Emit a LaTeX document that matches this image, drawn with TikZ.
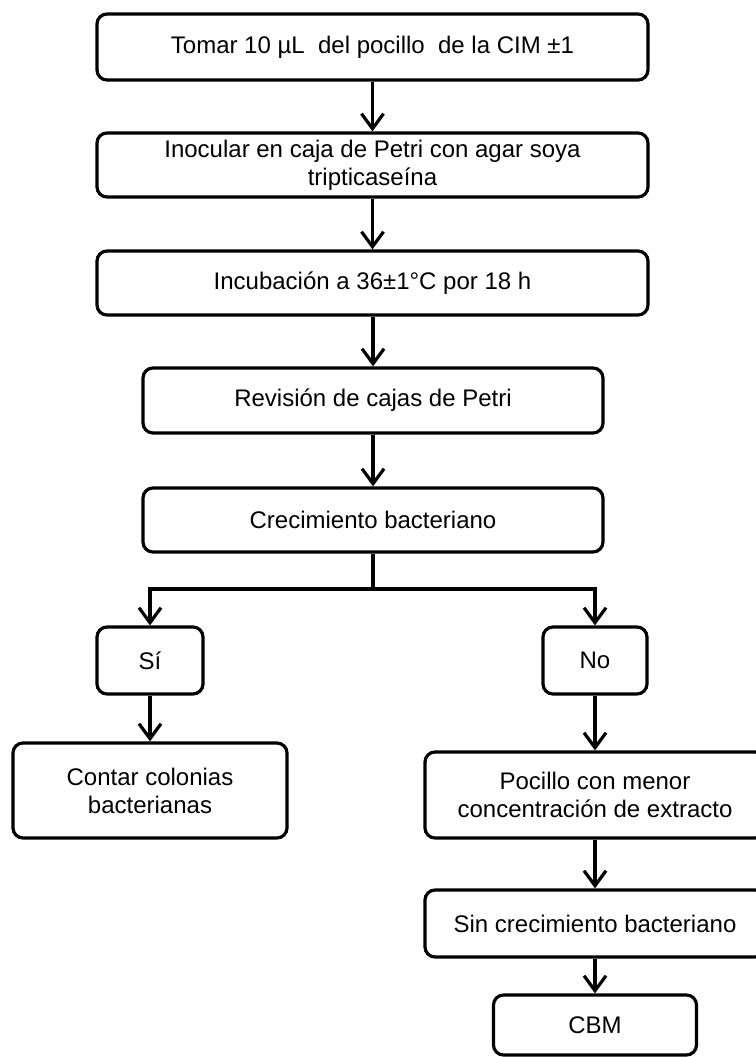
\documentclass[tikz,border=0pt]{standalone}
\usepackage{fontspec}
\setmainfont{Liberation Sans}
\usetikzlibrary{arrows.meta}
\begin{document}
\begin{tikzpicture}[x=1pt,y=-1pt,
  box/.style={draw=black, line width=3.2pt, rounded corners=10pt, fill=white,
    inner sep=0pt, align=center, font=\fontsize{24}{28}\selectfont},
  arr/.style={line width=3.2pt, -{Straight Barb[length=15pt,width=22pt,line width=3.2pt]}},
  ln/.style={line width=3.2pt}]
\useasboundingbox (0,0) rectangle (755,1057);
\node[box, minimum width=551pt, minimum height=66pt] (b1) at (372.5,47) {Tomar 10 µL\ \ del pocillo\ \ de la CIM ±1};
\node[box, minimum width=551pt, minimum height=64pt] (b2) at (372.5,165) {Inocular en caja de Petri con agar soya\\tripticaseína};
\node[box, minimum width=551pt, minimum height=64pt] (b3) at (372.5,283) {Incubación a 36±1°C por 18 h};
\node[box, minimum width=460pt, minimum height=65pt] (b4) at (373,400.5) {Revisión de cajas de Petri};
\node[box, minimum width=460pt, minimum height=64pt] (b5) at (373,520) {Crecimiento bacteriano};
\node[box, minimum width=106pt, minimum height=67pt] (si) at (150,660.5) {Sí};
\node[box, minimum width=104pt, minimum height=67pt] (no) at (595,660.5) {No};
\node[box, minimum width=274pt, minimum height=95pt] (contar) at (150,790.5) {Contar colonias\\bacterianas};
\node[box, minimum width=340pt, minimum height=86pt] (pocillo) at (595,795) {Pocillo con menor\\concentración de extracto};
\node[box, minimum width=340pt, minimum height=67pt] (sin) at (595,923.5) {Sin crecimiento bacteriano};
\node[box, minimum width=203pt, minimum height=60pt] (cbm) at (595,1025) {CBM};
\coordinate (j) at (373,589);
\draw[arr] (b1) -- (b2);
\draw[arr] (b2) -- (b3);
\draw[arr] (b3.south -| b4) -- (b4);
\draw[arr] (b4) -- (b5);
\draw[ln] (b5.south) -- (j);
\draw[arr] (j) -| (si.north);
\draw[arr] (j) -| (no.north);
\draw[arr] (si) -- (contar);
\draw[arr] (no) -- (pocillo);
\draw[arr] (pocillo) -- (sin);
\draw[arr] (sin) -- (cbm);
\end{tikzpicture}
\end{document}
